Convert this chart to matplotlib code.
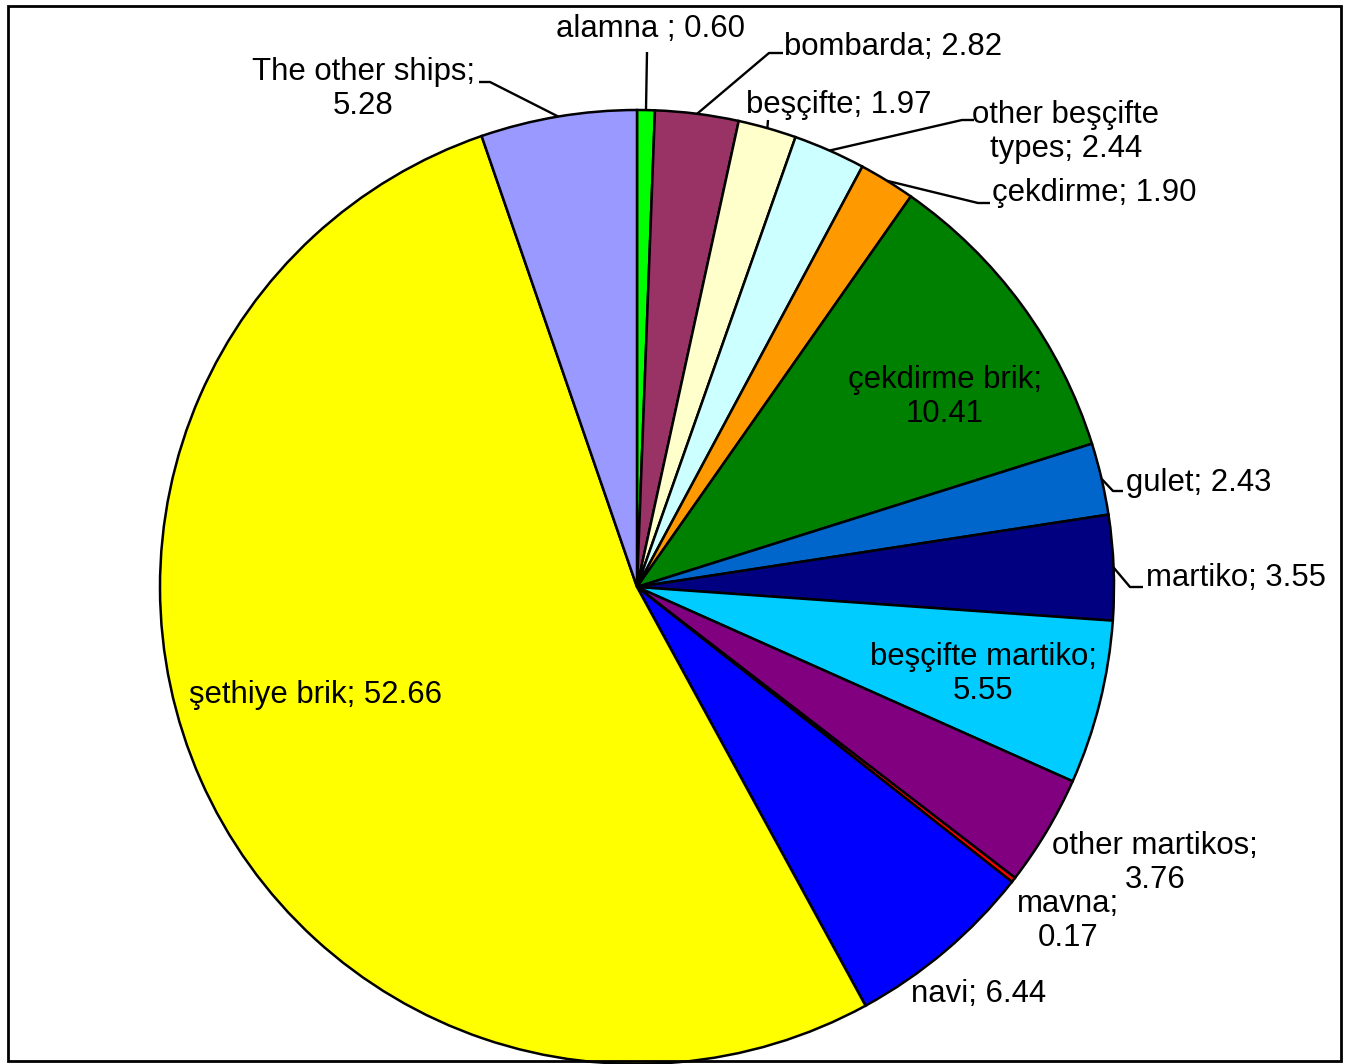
import numpy as np
import matplotlib.pyplot as plt
from matplotlib.patches import Rectangle

plt.rcParams['font.family'] = ['Liberation Sans', 'DejaVu Sans']

W, H = 1348, 1064

# Ship types and their shares (%), clockwise from the top
ships = ["alamna ", "bombarda", "beşçifte", "other beşçifte\ntypes", "çekdirme",
         "çekdirme brik", "gulet", "martiko", "beşçifte martiko", "other martikos",
         "mavna", "navi", "şethiye brik", "The other ships"]
shares = [0.60, 2.82, 1.97, 2.44, 1.90, 10.41, 2.43, 3.55, 5.55, 3.76,
          0.17, 6.44, 52.66, 5.28]
colors = ["#00FF00", "#993366", "#FFFFCC", "#CCFFFF", "#FF9900", "#008000",
          "#0066CC", "#000080", "#00CCFF", "#800080", "#FF0000", "#0000FF",
          "#FFFF00", "#9999FF"]

# label text: name; value (line breaks where the label wraps)
texts = ["alamna ; 0.60", "bombarda; 2.82", "beşçifte; 1.97",
         "other beşçifte\ntypes; 2.44", "çekdirme; 1.90", "çekdirme brik;\n10.41",
         "gulet; 2.43", "martiko; 3.55", "beşçifte martiko;\n5.55",
         "other martikos;\n3.76", "mavna;\n0.17", "navi; 6.44",
         "şethiye brik; 52.66", "The other ships;\n5.28"]

# label placement in pixels (x, y from top), horizontal alignment
label_pos = [(651, 29, 'center'), (784, 47, 'left'), (746, 105, 'left'),
             (1066, 132, 'center'), (992, 193, 'left'), (945, 397, 'center'),
             (1126, 483, 'left'), (1146, 578, 'left'), (983, 674, 'center'),
             (1155, 863, 'center'), (1068, 921, 'center'), (911, 994, 'left'),
             (189, 695, 'left'), (363, 89, 'center')]

# leader line bend points (pixels) for labels that sit outside the pie
leaders = {0: [(647, 52)],
           1: [(769, 53), (783, 53)],
           2: [(768, 120)],
           3: [(962, 120), (974, 120)],
           4: [(978, 203), (990, 203)],
           6: [(1113, 491), (1123, 491)],
           7: [(1130, 587), (1143, 587)],
           13: [(490, 82), (479, 82)]}

cx, cy, r = 637, 587, 477

fig = plt.figure(figsize=(W / 100, H / 100), dpi=100)
ax = fig.add_axes([0, 0, 1, 1])

ax.pie(shares, colors=colors, startangle=90, counterclock=False,
       center=(cx, H - cy), radius=r, normalize=True,
       wedgeprops=dict(edgecolor='black', linewidth=1.8))

ax.set_xlim(0, W)
ax.set_ylim(0, H)
ax.set_aspect('equal')
ax.axis('off')

# leader lines start on the rim at each wedge's middle angle
total = sum(shares)
cum = np.cumsum([0] + shares[:-1])
for i, pts in leaders.items():
    mid = (cum[i] + shares[i] / 2) / total
    ang = np.deg2rad(90 - mid * 360)
    x0, y0 = cx + r * np.cos(ang), cy - r * np.sin(ang)
    xs = [x0] + [p[0] for p in pts]
    ys = [H - y0] + [H - p[1] for p in pts]
    ax.plot(xs, ys, color='black', lw=1.7, solid_capstyle='butt')

for t, (x, y, ha) in zip(texts, label_pos):
    ax.text(x, H - y, t, ha=ha, va='center', fontsize=22.4, color='black',
            linespacing=1.17, multialignment='center')

# chart border
ax.add_patch(Rectangle((8, H - 1061), 1333, 1055, fill=False,
                       edgecolor='black', lw=2, clip_on=False))

fig.savefig("out.png", dpi=100)
